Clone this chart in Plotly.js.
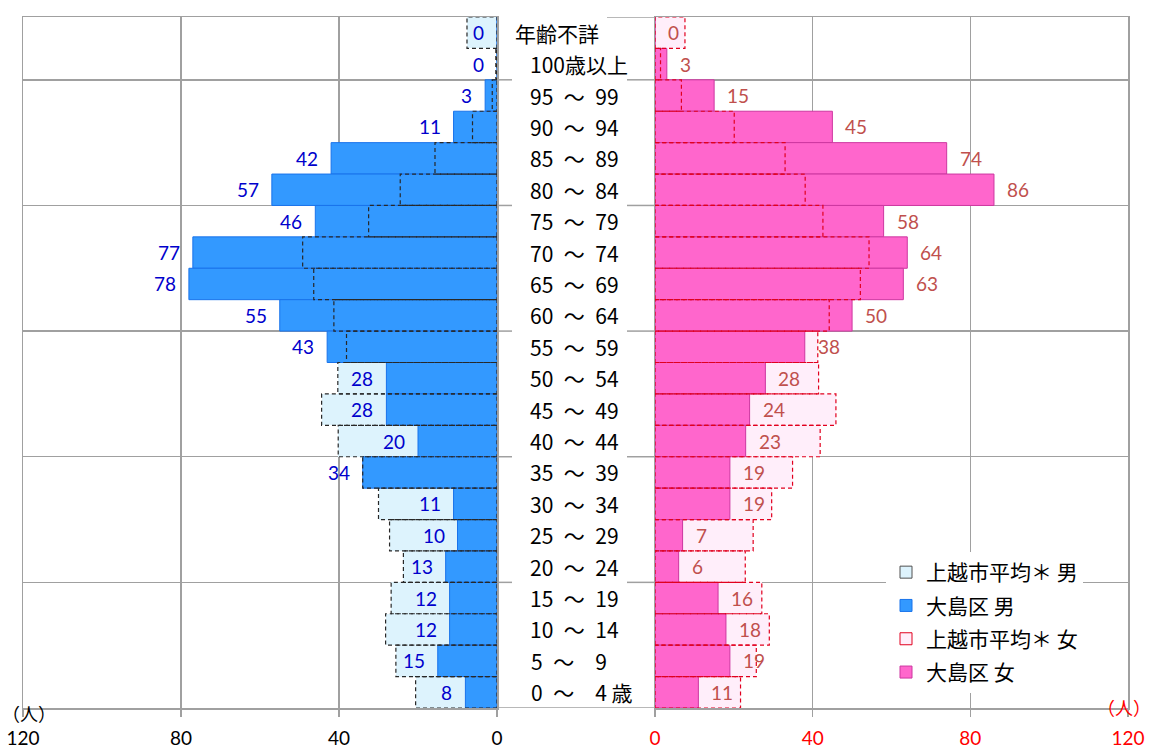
<!DOCTYPE html>
<html><head><meta charset="utf-8">
<script src="https://cdn.plot.ly/plotly-3.0.1.min.js"></script>
<style>html,body{margin:0;padding:0;background:#fff}#chart{width:1153px;height:749px}</style>
</head><body><div id="chart"></div>
<script>
// categories, top to bottom as in the picture
const categories = ["年齢不詳","100歳以上","95 ～ 99","90 ～ 94","85 ～ 89","80 ～ 84","75 ～ 79","70 ～ 74","65 ～ 69","60 ～ 64","55 ～ 59","50 ～ 54","45 ～ 49","40 ～ 44","35 ～ 39","30 ～ 34","25 ～ 29","20 ～ 24","15 ～ 19","10 ～ 14","5 ～ 9","0 ～ 4 歳"];
const maleOshima   = [0,0,3,11,42,57,46,77,78,55,43,28,28,20,34,11,10,13,12,12,15,8];
const maleAvg      = [7.6,0.3,1.2,6.2,15.7,24.5,32.5,49.2,46.4,41.3,38.1,40.3,44.4,40.2,34.0,30.0,27.2,23.7,26.8,28.2,25.6,20.6];
const femaleOshima = [0,3,15,45,74,86,58,64,63,50,38,28,24,23,19,19,7,6,16,18,19,11];
const femaleAvg    = [7.6,1.4,6.7,20.1,33.0,38.1,42.6,54.3,52.1,44.2,41.3,41.5,45.9,41.9,34.9,29.6,24.9,22.9,27.1,29.0,25.7,21.7];
const leftTicks  = [120,80,40,0];
const rightTicks = [0,40,80,120];
const seriesNames = ["上越市平均＊ 男","大島区 男","上越市平均＊ 女","大島区 女"];
const unitLabel = "（人）";

const W = 1153, H = 749;
const n = categories.length;
const yIdx = categories.map((c,k) => n-1-k);
const groupLines = [-0.5,3.5,7.5,11.5,15.5,19.5,21.5];

const C = {
  mFill:'rgb(51,153,255)', mLine:'rgb(25,115,235)', mAvg:'rgb(221,243,253)', mDash:'rgb(40,40,40)', mText:'rgb(0,0,204)',
  fFill:'rgb(255,102,204)', fLine:'rgb(205,55,160)', fAvg:'rgb(255,238,250)', fDash:'rgb(225,0,30)', fText:'rgb(192,80,77)',
  grid:'rgb(160,160,160)'
};

function outline(vals){
  const xs=[], ys=[];
  vals.forEach((v,k)=>{ const y=yIdx[k]; xs.push(0,v,v,0,0,null); ys.push(y-0.5,y-0.5,y+0.5,y+0.5,y-0.5,null); });
  return {x:xs, y:ys};
}
const mo = outline(maleAvg), fo = outline(femaleAvg);

const data = [
  {type:'bar', orientation:'h', x:maleAvg, y:yIdx, width:1, xaxis:'x', yaxis:'y',
   marker:{color:C.mAvg, line:{width:0}}, showlegend:false, hoverinfo:'skip'},
  {type:'bar', orientation:'h', x:maleOshima, y:yIdx, width:1, xaxis:'x', yaxis:'y', name:seriesNames[1], legendrank:2, legendgroup:'b',
   marker:{color:C.mFill, line:{color:C.mLine, width:1}}},
  {type:'scatter', mode:'lines', x:mo.x, y:mo.y, xaxis:'x', yaxis:'y', showlegend:false, hoverinfo:'skip',
   line:{color:C.mDash, width:1.2, dash:'4px,3px'}},
  {type:'bar', orientation:'h', x:femaleAvg, y:yIdx, width:1, xaxis:'x2', yaxis:'y2',
   marker:{color:C.fAvg, line:{width:0}}, showlegend:false, hoverinfo:'skip'},
  {type:'bar', orientation:'h', x:femaleOshima, y:yIdx, width:1, xaxis:'x2', yaxis:'y2', name:seriesNames[3], legendrank:4, legendgroup:'d',
   marker:{color:C.fFill, line:{color:C.fLine, width:1}}},
  {type:'scatter', mode:'lines', x:fo.x, y:fo.y, xaxis:'x2', yaxis:'y2', showlegend:false, hoverinfo:'skip',
   line:{color:C.fDash, width:1.2, dash:'4px,3px'}},
  // legend entries for the averages
  {type:'scatter', mode:'markers', x:[null], y:[null], xaxis:'x', yaxis:'y', name:seriesNames[0], legendrank:1, legendgroup:'a',
   marker:{symbol:'square', size:12, color:C.mAvg, line:{color:'rgb(80,80,80)', width:1}}},
  {type:'scatter', mode:'markers', x:[null], y:[null], xaxis:'x2', yaxis:'y2', name:seriesNames[2], legendrank:3, legendgroup:'c',
   marker:{symbol:'square', size:12, color:C.fAvg, line:{color:C.fDash, width:1}}}
];

const numFont = 'Lato, "Liberation Sans", sans-serif';
const jpFont = '"Noto Sans CJK JP", sans-serif';

function xAx(dom, range, ticks, color, anchor){
  return {domain:dom, range:range, tickvals:ticks, ticktext:ticks.map(String), anchor:anchor,
    ticks:'outside', ticklen:7, tickcolor:C.grid, tickwidth:1.5,
    showgrid:true, gridcolor:C.grid, gridwidth:1.5, zeroline:false,
    showline:true, mirror:true, linecolor:C.grid, linewidth:1.5,
    tickfont:{family:numFont, size:19, color:color}, ticklabelstandoff:6, fixedrange:true};
}
function yAx(anchor){
  return {domain:[0,1], range:[-0.5,21.5], tickvals:groupLines, showticklabels:false, ticks:'', anchor:anchor,
    showgrid:true, gridcolor:C.grid, gridwidth:1.5, zeroline:false,
    showline:true, mirror:true, linecolor:C.grid, linewidth:1.5, fixedrange:true};
}

// display formatting of the age-range labels (spacing only)
const EN = '\u2002';
function fmtLabel(c){
  const parts = c.split(' ～ ');
  if (parts.length < 2) return c;
  const right = parts[1].split(' ');
  const pad = right[0].length === 1 ? EN+EN : EN;
  return parts[0] + EN + '～' + pad + right.join(' ');
}
const annotations = [];
// center category labels
const labelShift = {"年齢不詳":-15, "5 ～ 9":1, "0 ～ 4 歳":1};
categories.forEach((c,k)=>{
  annotations.push({xref:'paper', yref:'y', x:(528+(labelShift[c]||0))/W, y:yIdx[k], text:fmtLabel(c), showarrow:false,
    xanchor:'left', yanchor:'middle', font:{family:jpFont, size:21, color:'#000'}});
});
// value labels
maleOshima.forEach((v,k)=>{
  annotations.push({xref:'x', yref:'y', x:v, y:yIdx[k], text:String(v), showarrow:false, xanchor:'right', yanchor:'middle',
    xshift:-11, font:{family:numFont, size:19, color:C.mText}});
});
femaleOshima.forEach((v,k)=>{
  annotations.push({xref:'x2', yref:'y2', x:v, y:yIdx[k], text:String(v), showarrow:false, xanchor:'left', yanchor:'middle',
    xshift:11, font:{family:numFont, size:19, color:C.fText}});
});
// unit labels
annotations.push({xref:'paper', yref:'paper', x:0, y:-5/691, text:unitLabel, showarrow:false, xanchor:'left', yanchor:'middle',
  font:{family:jpFont, size:18, color:'#000'}});
annotations.push({xref:'paper', yref:'paper', x:1, y:1/691, text:unitLabel, showarrow:false, xanchor:'right', yanchor:'middle',
  font:{family:jpFont, size:18, color:'rgb(255,0,0)'}});

// grid segments through the center label column
const shapes = [];
groupLines.forEach(g=>{
  const segs = g===21.5 ? [[607,655]] : (g===-0.5 ? [[497,655]] : [[497,512],[627,655]]);
  segs.forEach(s=>shapes.push({type:'line', xref:'paper', yref:'y', x0:s[0]/W, x1:s[1]/W, y0:g, y1:g,
    line:{color:C.grid, width:1.5}, layer:'below'}));
});

const layout = {
  width:W, height:H, margin:{l:0, r:0, t:17, b:41}, paper_bgcolor:'#fff', plot_bgcolor:'rgba(0,0,0,0)',
  barmode:'overlay', bargap:0, showlegend:true,
  xaxis: xAx([23/W, 497/W], [120,0], leftTicks, '#000', 'y'),
  yaxis: yAx('x'),
  xaxis2: xAx([655/W, 1128/W], [0,120], rightTicks, 'rgb(255,0,0)', 'y2'),
  yaxis2: yAx('x2'),
  legend:{x:886/W, xanchor:'left', y:(708-552)/691, yanchor:'top', bgcolor:'#fff', borderwidth:0,
    font:{family:jpFont, size:21, color:'#000'}, traceorder:'grouped', tracegroupgap:3, itemclick:false, itemdoubleclick:false},
  annotations:annotations, shapes:shapes, hovermode:false
};

Plotly.newPlot('chart', data, layout, {staticPlot:true, displayModeBar:false});
</script></body></html>
